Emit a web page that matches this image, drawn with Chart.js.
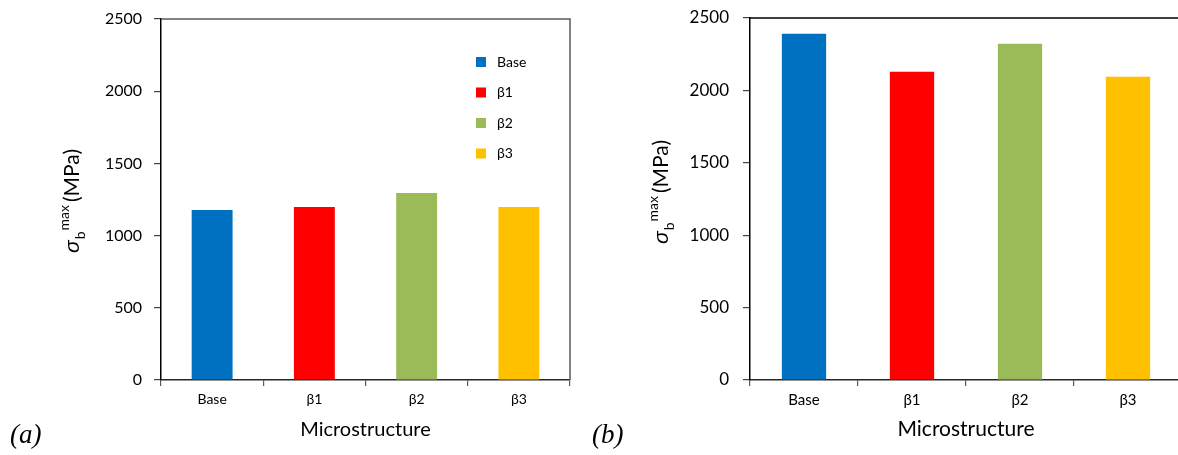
<!DOCTYPE html>
<html>
<head>
<meta charset="utf-8">
<script src="https://cdn.jsdelivr.net/npm/chart.js@4.4.0/dist/chart.umd.min.js"></script>
<style>
  body { margin: 0; width: 1178px; height: 455px; overflow: hidden; background: #fff; position: relative; }
  .panel { position: absolute; top: 0; height: 455px; overflow: hidden; }
  #panelA { left: 0; width: 590px; }
  #panelB { left: 590px; width: 588px; }
  .tag { position: absolute; font-family: "Liberation Serif", serif; font-style: italic; font-size: 27px; color: #000; line-height: 1; }
</style>
</head>
<body>
<div class="panel" id="panelA"><canvas id="chartA" width="590" height="455"></canvas></div>
<div class="panel" id="panelB"><canvas id="chartB" width="600" height="455"></canvas></div>
<div class="tag" style="left:10px; top:421px;">(a)</div>
<div class="tag" style="left:592px; top:421px;">(b)</div>
<script>
const categories = ['Base', 'β1', 'β2', 'β3'];
const strengthA = [1178, 1198, 1295, 1198];
const strengthB = [2391, 2129, 2322, 2094];
const yTicks = [0, 500, 1000, 1500, 2000, 2500];
const barColors = ['#0070C0', '#FF0000', '#9BBB59', '#FFC000'];

Chart.defaults.font.family = 'Lato';
Chart.defaults.color = '#000';

// box lines on top and right of the plot
const framePlugin = {
    id: 'frame',
    afterDraw(chart, args, opts) {
        const { ctx, chartArea: a } = chart;
        ctx.save();
        ctx.strokeStyle = opts.color;
        ctx.lineWidth = 1.5;
        ctx.beginPath();
        ctx.moveTo(a.left, a.top);
        ctx.lineTo(a.right, a.top);
        ctx.lineTo(a.right, a.bottom);
        ctx.stroke();
        ctx.restore();
    }
};

// sigma_b^max (MPa), rotated
const yTitlePlugin = {
    id: 'yTitle',
    afterDraw(chart, args, o) {
        const ctx = chart.ctx;
        const parts = [
            { t: 'σ', f: `italic ${o.size}px "Liberation Sans"`, dy: 0, gap: 0 },
            { t: 'b', f: `${o.small}px Lato`, dy: o.size * 0.28, gap: 1 },
            { t: 'max', f: `${o.small}px Lato`, dy: -o.size * 0.5, gap: 1 },
            { t: '(MPa)', f: `${o.size}px Lato`, dy: 0, gap: 3 }
        ];
        ctx.save();
        let total = 0;
        parts.forEach(p => {
            ctx.font = p.f;
            p.w = ctx.measureText(p.t).width;
            total += p.w + p.gap;
        });
        ctx.translate(o.x, o.y);
        ctx.rotate(-Math.PI / 2);
        ctx.fillStyle = '#000';
        ctx.textBaseline = 'alphabetic';
        let x = -total / 2;
        parts.forEach(p => {
            x += p.gap;
            ctx.font = p.f;
            ctx.fillText(p.t, x, p.dy);
            x += p.w;
        });
        ctx.restore();
    }
};

const boxLegendPlugin = {
    id: 'boxLegend',
    afterDraw(chart, args, o) {
        if (!o.show) return;
        const ctx = chart.ctx;
        const ds = chart.data.datasets[0];
        ctx.save();
        ctx.textBaseline = 'middle';
        ctx.font = `${o.size}px Lato`;
        chart.data.labels.forEach((label, i) => {
            const cy = o.y + i * o.step;
            ctx.fillStyle = ds.backgroundColor[i];
            ctx.fillRect(o.x, cy - 5, 10, 10);
            ctx.fillStyle = '#000';
            ctx.fillText(label, o.x + 21, cy);
        });
        ctx.restore();
    }
};

function makeChart(id, values, cfg) {
    const ctx = document.getElementById(id).getContext('2d');
    return new Chart(ctx, {
        type: 'bar',
        data: {
            labels: categories,
            datasets: [{
                label: 'σb max',
                data: values,
                backgroundColor: barColors,
                borderWidth: 0,
                barPercentage: cfg.barPct,
                categoryPercentage: 1
            }]
        },
        plugins: [framePlugin, yTitlePlugin, boxLegendPlugin],
        options: {
            responsive: false,
            animation: false,
            layout: { padding: { top: cfg.top, right: cfg.right, left: 0, bottom: 0 } },
            plugins: {
                legend: { display: false },
                tooltip: { enabled: false },
                frame: { color: cfg.frameColor },
                yTitle: { x: cfg.titleX, y: cfg.titleY, size: cfg.titleSize, small: cfg.smallSize },
                boxLegend: { show: cfg.legend, x: 476, y: 62, step: 30.5, size: 14 }
            },
            scales: {
                x: {
                    offset: true,
                    grid: { drawOnChartArea: false, tickLength: 6, color: '#595959', offset: true, lineWidth: 1.2 },
                    border: { color: '#262626', width: 1.5 },
                    ticks: { padding: 5, font: { size: cfg.xTickSize } },
                    title: { display: true, text: 'Microstructure', font: { size: cfg.xTitleSize }, padding: { top: 0, bottom: 13 } },
                    afterFit(s) { s.height = 75; s.paddingLeft = 0; s.paddingRight = 0; }
                },
                y: {
                    min: 0,
                    max: 2500,
                    afterBuildTicks(s) { s.ticks = yTicks.map(v => ({ value: v })); },
                    grid: { drawOnChartArea: false, tickLength: 7, color: '#404040', lineWidth: 1.2 },
                    border: { color: '#000', width: 1.5 },
                    ticks: { padding: cfg.yPad, font: { size: cfg.yTickSize }, callback: v => String(v) },
                    afterFit(s) { s.width = cfg.axisLeft; s.paddingTop = 0; s.paddingBottom = 0; }
                }
            }
        }
    });
}

makeChart('chartA', strengthA, {
    barPct: 0.4, top: 19, right: 20, frameColor: '#595959', axisLeft: 161,
    titleX: 79, titleY: 201, titleSize: 21, smallSize: 14,
    xTickSize: 14, xTitleSize: 20, yTickSize: 16, yPad: 12, legend: true
});
makeChart('chartB', strengthB, {
    barPct: 0.41, top: 18, right: 8, frameColor: '#000', axisLeft: 160,
    titleX: 78, titleY: 192, titleSize: 21, smallSize: 14,
    xTickSize: 15, xTitleSize: 21, yTickSize: 17, yPad: 14, legend: false
});
</script>
</body>
</html>
